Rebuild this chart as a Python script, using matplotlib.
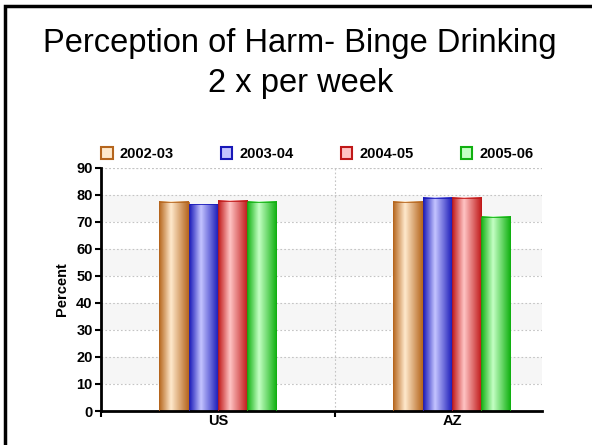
import numpy as np
import matplotlib
matplotlib.use('Agg')
import matplotlib.pyplot as plt
from matplotlib.patches import Patch, Rectangle
from matplotlib.colors import LinearSegmentedColormap

categories = ['US', 'AZ']
years = ['2002-03', '2003-04', '2004-05', '2005-06']
values = {
    '2002-03': [77.4, 77.4],
    '2003-04': [76.5, 78.8],
    '2004-05': [77.8, 78.8],
    '2005-06': [77.4, 71.9],
}
# (edge colour, highlight colour) for each series
colours = [('#b5651d', '#ffe9cc'), ('#1818b8', '#c4c4ff'),
           ('#c01818', '#ffc4c4'), ('#10b010', '#c4ffc4')]

font = ['Liberation Sans', 'DejaVu Sans']
fs = 10.5

fig = plt.figure(figsize=(5.92, 4.45), dpi=100)
fig.patches.append(Rectangle((0.008, -0.1), 1.2, 1.087, transform=fig.transFigure,
                             fill=False, edgecolor='black', linewidth=2.5))
fig.text(0.507, 0.884, 'Perception of Harm- Binge Drinking', ha='center', va='baseline',
         family=font, fontsize=23.5)
fig.text(0.507, 0.794, '2 x per week', ha='center', va='baseline',
         family=font, fontsize=23.5)

ax = fig.add_axes([0.1706, 0.0764, 0.7449, 0.5467])
x = np.arange(len(categories))
w = 0.125

# alternating background bands
for lo in range(10, 90, 20):
    ax.axhspan(lo, lo + 10, color='#f6f6f6', zorder=0, lw=0)

for i, yr in enumerate(years):
    edge, light = colours[i]
    cmap = LinearSegmentedColormap.from_list(yr, [(0, edge), (0.4, light), (1, edge)])
    bars = ax.bar(x + (i - 1.5) * w, values[yr], w, facecolor='none', edgecolor='none', zorder=3)
    grad = np.linspace(0, 1, 64).reshape(1, -1)
    for b in bars:
        x0, y0 = b.get_x(), b.get_y()
        ax.imshow(grad, cmap=cmap, aspect='auto', zorder=2,
                  extent=(x0, x0 + b.get_width(), y0, y0 + b.get_height()))
        ax.add_patch(Rectangle((x0, y0), b.get_width(), b.get_height(), fill=False,
                               edgecolor=edge, linewidth=0.6, zorder=4))

ax.set_xlim(-0.5, 1.385)
ax.set_ylim(0, 90)
ax.set_yticks(range(0, 91, 10))
ax.set_xticks([-0.5, 0.5])
ax.set_xticklabels([])
ax.set_xticks(x, minor=True)
ax.set_xticklabels(categories, minor=True, fontweight='bold', family=font, fontsize=fs)
ax.tick_params(axis='x', which='minor', length=0, pad=2)
ax.tick_params(axis='x', which='major', length=4, width=1.5, direction='out')
ax.tick_params(axis='y', length=4, width=1.5, direction='out', pad=2)
for lab in ax.get_yticklabels():
    lab.set_fontweight('bold')
    lab.set_family(font)
    lab.set_fontsize(fs)
ax.set_ylabel('Percent', fontweight='bold', family=font, fontsize=fs, labelpad=5)

ax.grid(axis='y', linestyle=(0, (1.5, 2)), color='#c4c4c4', linewidth=0.8, zorder=1)
ax.axvline(0.5, linestyle=(0, (1.5, 2)), color='#c4c4c4', linewidth=0.8, zorder=1)
ax.axhline(90, linestyle=(0, (1.5, 2)), color='#c4c4c4', linewidth=0.8, zorder=1)
ax.set_axisbelow(True)
for s in ['top', 'right']:
    ax.spines[s].set_visible(False)
ax.spines['left'].set_linewidth(2)
ax.spines['bottom'].set_linewidth(2)

handles = [Patch(facecolor=c[1], edgecolor=c[0], linewidth=1.5) for c in colours]
fig.legend(handles, years, loc='center', bbox_to_anchor=(0.536, 0.654), ncol=4,
           frameon=False, prop={'family': font, 'weight': 'bold', 'size': fs},
           handlelength=0.8, handleheight=0.9, handletextpad=0.5, columnspacing=3.2)

fig.savefig('out.png', dpi=100)
